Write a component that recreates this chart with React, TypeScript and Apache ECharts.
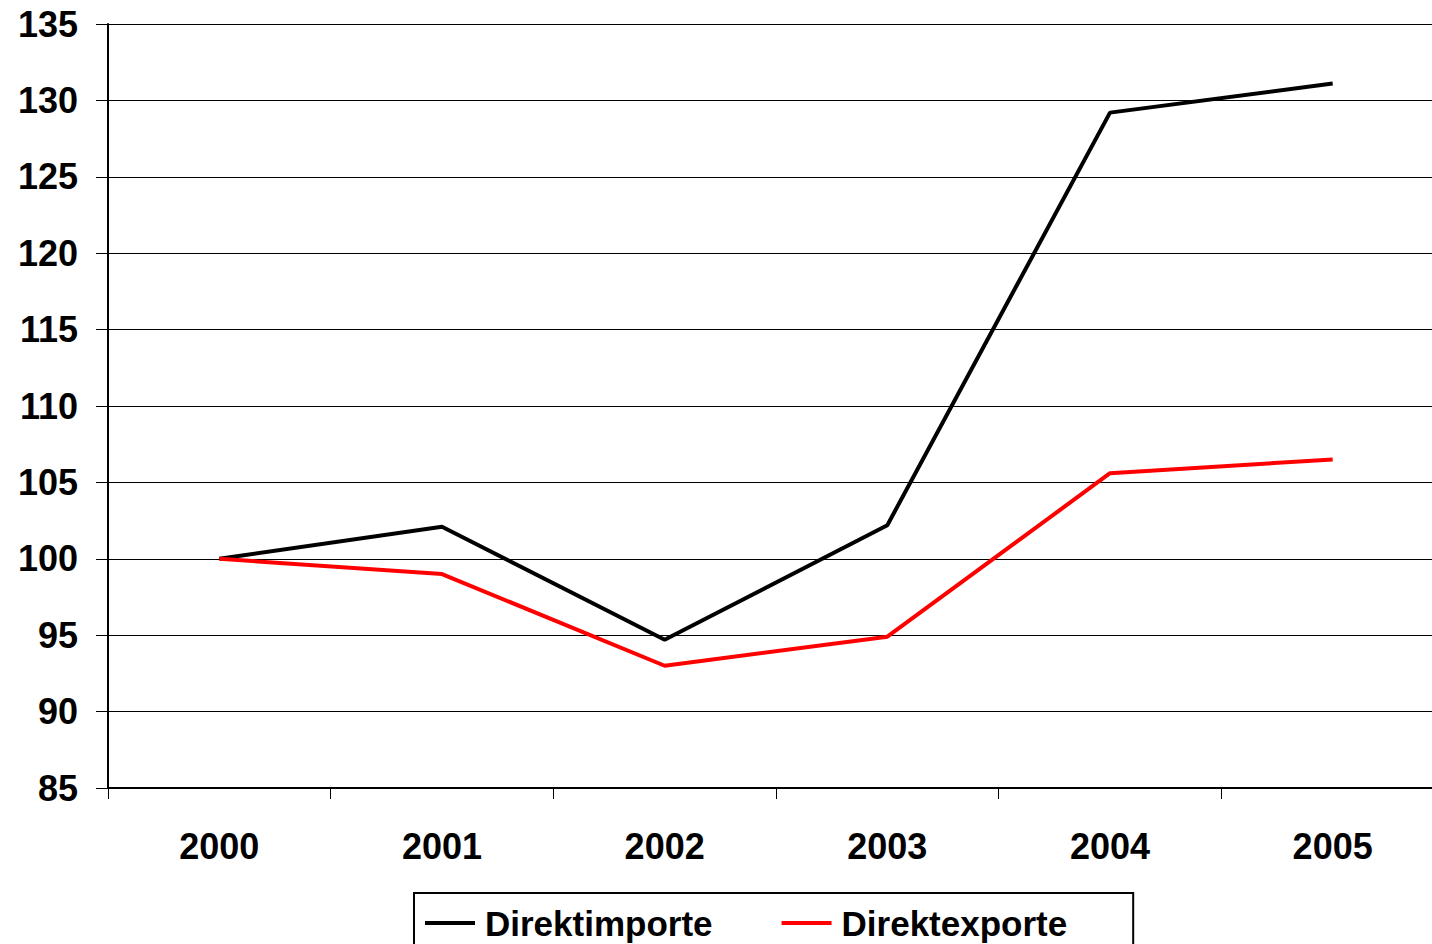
import React, { useEffect, useRef } from "react";
import * as echarts from "echarts";

const years = ["2000", "2001", "2002", "2003", "2004", "2005"];
const direktimporte = [100, 102.1, 94.7, 102.2, 129.2, 131.1];
const direktexporte = [100, 99.0, 93.0, 94.9, 105.6, 106.5];

const FONT = "'Liberation Sans', Arial, sans-serif";

export default function App() {
  const ref = useRef<HTMLDivElement>(null);
  useEffect(() => {
    if (!ref.current) return;
    const chart = echarts.init(ref.current, undefined, { renderer: "svg" });
    chart.setOption({
      animation: false,
      backgroundColor: "#ffffff",
      grid: { left: 108, top: 24, right: 0, bottom: 156, containLabel: false },
      legend: {
        left: 414,
        top: 893,
        orient: "horizontal",
        borderColor: "#000",
        borderWidth: 2,
        borderRadius: 0,
        padding: [10, 66, 40, 11],
        itemWidth: 50,
        itemHeight: 4,
        itemGap: 69,
        icon: "rect",
        textStyle: {
          fontFamily: FONT,
          fontWeight: "bold",
          fontSize: 35,
          color: "#000",
          lineHeight: 36,
          padding: [4, 0, 0, 5],
        },
        data: ["Direktimporte", "Direktexporte"],
      },
      xAxis: {
        type: "category",
        data: years,
        boundaryGap: true,
        axisLine: { show: true, lineStyle: { color: "#000", width: 2 } },
        axisTick: { show: true, length: 11, lineStyle: { color: "#000", width: 1 } },
        axisLabel: {
          fontFamily: FONT,
          fontWeight: "bold",
          fontSize: 36,
          color: "#000",
          margin: 40,
        },
        splitLine: { show: false },
      },
      yAxis: {
        type: "value",
        min: 85,
        max: 135,
        interval: 5,
        axisLine: { show: true, lineStyle: { color: "#000", width: 2 } },
        axisTick: { show: true, length: 12, lineStyle: { color: "#000", width: 1 } },
        axisLabel: {
          fontFamily: FONT,
          fontWeight: "bold",
          fontSize: 36,
          color: "#000",
          margin: 30,
        },
        splitLine: { show: true, lineStyle: { color: "#000", width: 1 } },
      },
      series: [
        {
          name: "Direktimporte",
          type: "line",
          data: direktimporte,
          showSymbol: false,
          symbol: "none",
          itemStyle: { color: "#000" },
          lineStyle: { color: "#000", width: 4 },
          z: 3,
        },
        {
          name: "Direktexporte",
          type: "line",
          data: direktexporte,
          showSymbol: false,
          symbol: "none",
          itemStyle: { color: "#ff0000" },
          lineStyle: { color: "#ff0000", width: 4 },
          z: 4,
        },
      ],
    });
    return () => chart.dispose();
  }, []);
  return (
    <div
      style={{
        position: "fixed",
        left: 0,
        top: 0,
        width: 1432,
        height: 944,
        overflow: "hidden",
        background: "#fff",
      }}
    >
      <div ref={ref} style={{ width: 1444, height: 944 }} />
    </div>
  );
}
